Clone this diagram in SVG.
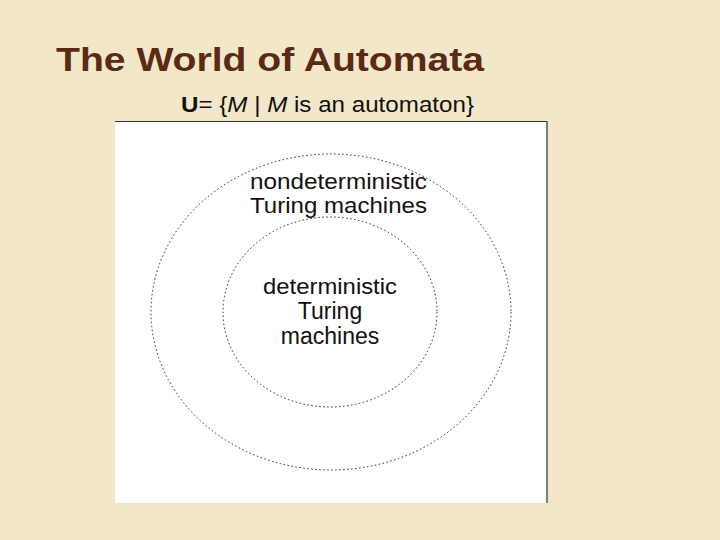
<svg xmlns="http://www.w3.org/2000/svg" width="720" height="540" viewBox="0 0 720 540">
<style>
.t{font-family:"Liberation Sans",Arial,sans-serif;fill:#111;font-size:22px}
.c{fill:none;stroke:#222;stroke-width:1;stroke-dasharray:1.5 2.5}
</style>
<rect width="720" height="540" fill="#f3e7c9"/>
<text x="56" y="71" font-family="Liberation Sans,Arial,sans-serif" font-size="33" font-weight="bold" fill="#5b2a16" textLength="428" lengthAdjust="spacingAndGlyphs">The World of Automata</text>
<text class="t" x="181" y="112" font-size="21" textLength="293" lengthAdjust="spacingAndGlyphs"><tspan font-weight="bold">U</tspan>= {<tspan font-style="italic">M</tspan> | <tspan font-style="italic">M</tspan> is an automaton}</text>
<rect x="115" y="121" width="432" height="382" fill="#fff"/>
<path d="M115 121.5H547V503" fill="none" stroke="#333" stroke-width="1.2"/>
<g id="outer"><ellipse class="c" cx="331" cy="312" rx="180" ry="158"/>
<text class="t" x="250" y="189" textLength="177" lengthAdjust="spacingAndGlyphs">nondeterministic</text>
<text class="t" x="250" y="213" textLength="177" lengthAdjust="spacingAndGlyphs">Turing machines</text></g>
<g id="inner"><ellipse class="c" cx="330" cy="312" rx="107" ry="95"/>
<text class="t" x="263" y="294" textLength="134" lengthAdjust="spacingAndGlyphs">deterministic</text>
<text class="t" x="330" y="319" text-anchor="middle" style="font-size:23px">Turing</text>
<text class="t" x="330" y="344" text-anchor="middle" style="font-size:23px">machines</text></g>
<g id="connectors"/>
</svg>
